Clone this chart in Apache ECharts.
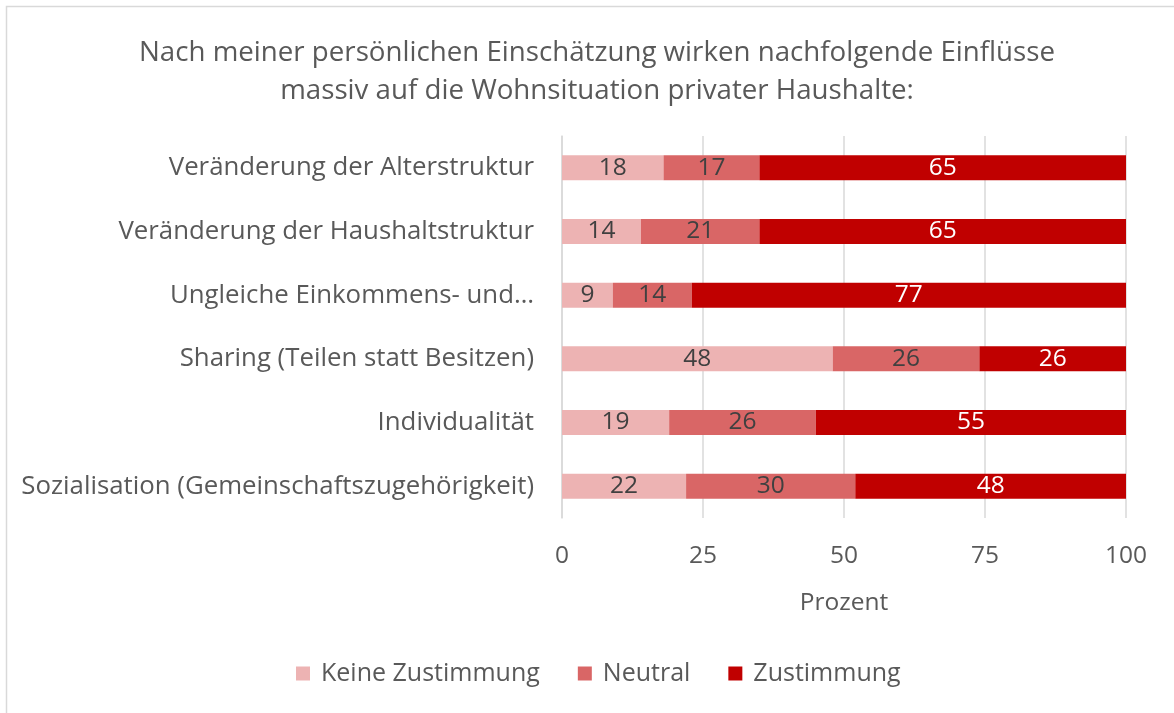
<!DOCTYPE html>
<html><head><meta charset="utf-8">
<script src="https://cdn.jsdelivr.net/npm/echarts@6/dist/echarts.min.js"></script>
<style>html,body{margin:0;padding:0;background:#fff}#c{width:1174px;height:713px}</style>
</head><body><div id="c"></div>
<script>
const categories = ["Veränderung der Alterstruktur","Veränderung der Haushaltstruktur","Ungleiche Einkommens- und Vermögensverteilung","Sharing (Teilen statt Besitzen)","Individualität","Sozialisation (Gemeinschaftszugehörigkeit)"];
const keineZustimmung = [18,14,9,48,19,22];
const neutral = [17,21,14,26,26,30];
const zustimmung = [65,65,77,26,55,48];
const xTicks = [0,25,50,75,100];
const seriesNames = ["Keine Zustimmung","Neutral","Zustimmung"];
const colors = ["#EDB3B3","#D96666","#C00000"];
const FONT = "Open Sans";
const chart = echarts.init(document.getElementById('c'));
function trunc(s){ return s.indexOf("Ungleiche")===0 ? "Ungleiche Einkommens- und…" : s; }
function mk(name,data,color,labelColor){
  return {name, type:'bar', stack:'s', data, barWidth:25,
    itemStyle:{color},
    label:{show:true, position:'inside', color:labelColor, fontSize:24.5, fontFamily:FONT}};
}
chart.setOption({
  animation:false,
  title:{text:"Nach meiner persönlichen Einschätzung wirken nachfolgende Einflüsse\nmassiv auf die Wohnsituation privater Haushalte:",
    left:592, textAlign:'center', top:29,
    textStyle:{fontFamily:FONT, fontSize:27.7, fontWeight:'normal', color:'#595959', lineHeight:38}},
  graphic:[{type:'rect', shape:{x:6.5,y:6.5,width:1200,height:800}, style:{fill:null, stroke:'#d9d9d9', lineWidth:1.5}, silent:true}],
  grid:{left:562, right:48, top:136, height:382, containLabel:false},
  legend:{bottom:22, left:291, itemWidth:14, itemHeight:14, itemGap:38, icon:'rect',
    textStyle:{fontFamily:FONT, fontSize:25, color:'#595959', padding:[0,0,0,6]}, data:seriesNames},
  xAxis:{type:'value', min:0, max:100, interval:25, name:'Prozent', nameLocation:'middle', nameGap:73,
    nameTextStyle:{fontFamily:FONT, fontSize:24.5, color:'#595959'},
    axisLabel:{fontFamily:FONT, fontSize:24.5, color:'#595959', margin:26,
      formatter:v=> xTicks.includes(v)? String(v):''},
    splitLine:{lineStyle:{color:'#d9d9d9', width:1.5}}, axisLine:{show:false}, axisTick:{show:false}},
  yAxis:{type:'category', data:categories, inverse:true,
    axisLabel:{fontFamily:FONT, fontSize:25.8, color:'#595959', margin:28, formatter:trunc},
    axisLine:{lineStyle:{color:'#d9d9d9', width:1.5}}, axisTick:{show:false}},
  series:[mk(seriesNames[0],keineZustimmung,colors[0],'#404040'),
          mk(seriesNames[1],neutral,colors[1],'#404040'),
          mk(seriesNames[2],zustimmung,colors[2],'#ffffff')]
});
</script></body></html>
